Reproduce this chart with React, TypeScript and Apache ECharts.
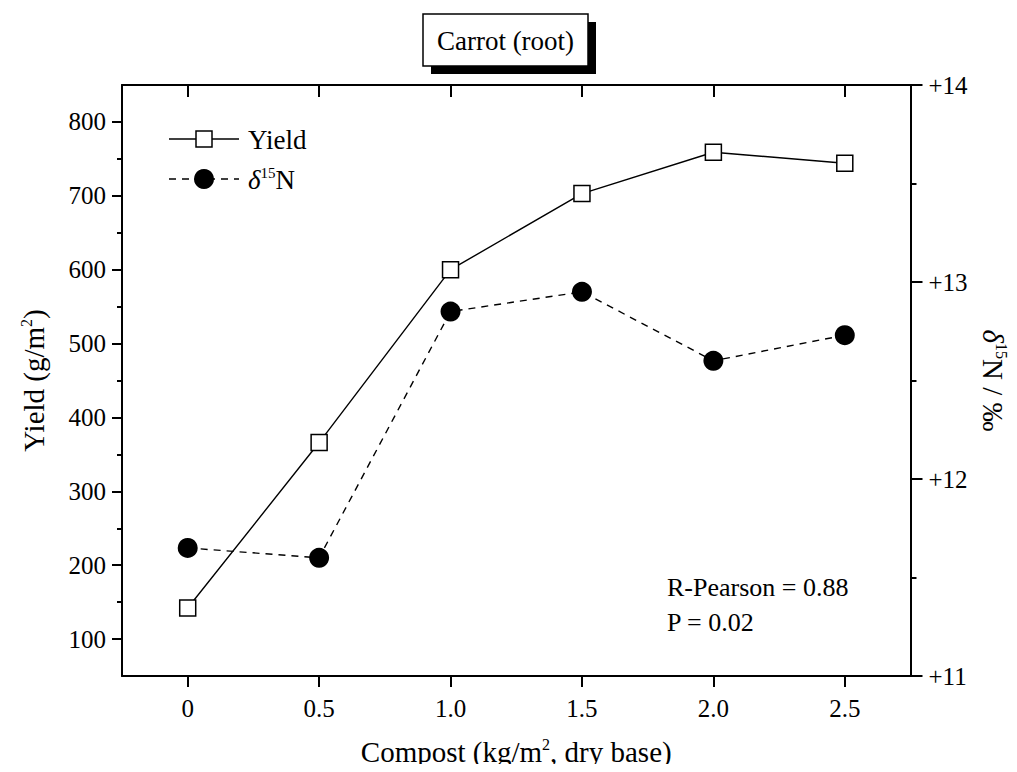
import React, { useEffect, useRef } from "react";
import * as echarts from "echarts";

const compost = [0, 0.5, 1.0, 1.5, 2.0, 2.5];
const yieldValues = [142, 366, 600, 703, 759, 744];
const deltaValues = [11.65, 11.6, 12.85, 12.95, 12.6, 12.73];
const xTicks = [0, 0.5, 1.0, 1.5, 2.0, 2.5];
const yieldTicks = [100, 200, 300, 400, 500, 600, 700, 800];
const yieldMinorTicks = [150, 250, 350, 450, 550, 650, 750];
const deltaTickLabels = ["+11", "+12", "+13", "+14"];

const FONT = "Liberation Serif";

export default function App() {
  const ref = useRef<HTMLDivElement>(null);
  useEffect(() => {
    if (!ref.current) return;
    const chart = echarts.init(ref.current, null, { renderer: "svg" });
    const axisLine = { show: true, onZero: false, lineStyle: { color: "#000", width: 2 } };
    const tickStyle = { color: "#000", width: 2 };
    const option: any = {
      animation: false,
      backgroundColor: "#fff",
      textStyle: { fontFamily: FONT },
      grid: { left: 122, right: 101, top: 85, bottom: 96, containLabel: false },
      xAxis: [
        {
          type: "value",
          position: "bottom",
          min: -0.25,
          max: 2.75,
          axisLine,
          axisTick: { show: true, customValues: xTicks, length: 11, lineStyle: tickStyle },
          axisLabel: {
            show: true,
            customValues: xTicks,
            formatter: (v: number) => (v === 0 ? "0" : v.toFixed(1)),
            fontSize: 25,
            color: "#000",
            fontFamily: FONT,
            margin: 20,
          },
          splitLine: { show: false },
          name: "{n|Compost (kg/m}{s|2}{n|, dry base)}",
          nameLocation: "middle",
          nameGap: 60,
          nameTextStyle: {
            fontFamily: FONT,
            rich: {
              n: { fontSize: 29, fontFamily: FONT, color: "#000", lineHeight: 32 },
              s: { fontSize: 16, fontFamily: FONT, color: "#000", verticalAlign: "top", lineHeight: 32 },
            },
          },
        },
        {
          type: "value",
          position: "top",
          min: -0.25,
          max: 2.75,
          axisLine,
          axisTick: { show: true, inside: true, customValues: xTicks, length: 12, lineStyle: tickStyle },
          axisLabel: { show: false },
          splitLine: { show: false },
        },
      ],
      yAxis: [
        {
          type: "value",
          position: "left",
          min: 50,
          max: 850,
          axisLine,
          axisTick: { show: true, customValues: yieldTicks, length: 10, lineStyle: tickStyle },
          axisLabel: {
            show: true,
            customValues: yieldTicks,
            fontSize: 25,
            color: "#000",
            fontFamily: FONT,
            margin: 16,
          },
          splitLine: { show: false },
          name: "{n|Yield (g/m}{s|2}{n|)}",
          nameLocation: "middle",
          nameRotate: 90,
          nameGap: 72,
          nameTextStyle: {
            fontFamily: FONT,
            rich: {
              n: { fontSize: 29, fontFamily: FONT, color: "#000", lineHeight: 32 },
              s: { fontSize: 16, fontFamily: FONT, color: "#000", verticalAlign: "top", lineHeight: 32 },
            },
          },
        },
        {
          type: "value",
          position: "right",
          min: 11,
          max: 14,
          interval: 1,
          axisLine,
          axisTick: { show: true, length: 12, lineStyle: tickStyle },
          minorTick: { show: true, splitNumber: 2, length: 6, lineStyle: tickStyle },
          axisLabel: {
            show: true,
            formatter: (v: number) => deltaTickLabels[Math.round(v - 11)] ?? "",
            fontSize: 25,
            color: "#000",
            fontFamily: FONT,
            margin: 18,
          },
          splitLine: { show: false },
          minorSplitLine: { show: false },
          name: "{d|δ}{s|15}{n|N / ‰}",
          nameLocation: "middle",
          nameRotate: -90,
          nameGap: 62,
          nameTextStyle: {
            fontFamily: FONT,
            rich: {
              d: { fontSize: 29, fontFamily: FONT, fontStyle: "italic", color: "#000", lineHeight: 32 },
              n: { fontSize: 29, fontFamily: FONT, color: "#000", lineHeight: 32 },
              s: { fontSize: 16, fontFamily: FONT, color: "#000", verticalAlign: "top", lineHeight: 32 },
            },
          },
        },
        {
          type: "value",
          position: "left",
          min: 50,
          max: 850,
          axisLine: { show: false, onZero: false },
          axisTick: { show: true, customValues: yieldMinorTicks, length: 5, lineStyle: tickStyle },
          axisLabel: { show: false },
          splitLine: { show: false },
        },
      ],
      series: [
        {
          type: "line",
          name: "Yield",
          xAxisIndex: 0,
          yAxisIndex: 0,
          data: compost.map((x, i) => [x, yieldValues[i]]),
          symbol: "rect",
          symbolSize: 16,
          lineStyle: { color: "#000", width: 1.4, type: "solid" },
          itemStyle: { color: "#fff", borderColor: "#000", borderWidth: 1.5 },
          z: 3,
        },
        {
          type: "line",
          name: "δ15N",
          xAxisIndex: 0,
          yAxisIndex: 1,
          data: compost.map((x, i) => [x, deltaValues[i]]),
          symbol: "circle",
          symbolSize: 20,
          lineStyle: { color: "#000", width: 1.4, type: [7, 6] },
          itemStyle: { color: "#000", borderColor: "#000", borderWidth: 0 },
          z: 2,
        },
      ],
      graphic: [
        { type: "rect", shape: { x: 431, y: 22, width: 165, height: 52 }, style: { fill: "#000" }, z: 10 },
        {
          type: "rect",
          shape: { x: 423, y: 14, width: 165, height: 52 },
          style: { fill: "#fff", stroke: "#000", lineWidth: 1.5 },
          z: 11,
        },
        {
          type: "text",
          x: 505.5,
          y: 41,
          style: {
            text: "Carrot (root)",
            fontSize: 27,
            fontFamily: FONT,
            fill: "#000",
            align: "center",
            verticalAlign: "middle",
          },
          z: 12,
        },
        { type: "line", shape: { x1: 169, y1: 139, x2: 239, y2: 139 }, style: { stroke: "#000", lineWidth: 1.4 }, z: 10 },
        {
          type: "rect",
          shape: { x: 196, y: 131, width: 16, height: 16 },
          style: { fill: "#fff", stroke: "#000", lineWidth: 1.5 },
          z: 11,
        },
        {
          type: "text",
          x: 248,
          y: 140,
          style: { text: "Yield", fontSize: 27, fontFamily: FONT, fill: "#000", verticalAlign: "middle" },
          z: 11,
        },
        {
          type: "line",
          shape: { x1: 169, y1: 179, x2: 239, y2: 179 },
          style: { stroke: "#000", lineWidth: 1.4, lineDash: [7, 6] },
          z: 10,
        },
        { type: "circle", shape: { cx: 204, cy: 179, r: 10 }, style: { fill: "#000" }, z: 11 },
        {
          type: "text",
          x: 248,
          y: 180,
          style: {
            text: "{d|δ}{s|15}{n|N}",
            fontFamily: FONT,
            verticalAlign: "middle",
            rich: {
              d: { fontSize: 27, fontFamily: FONT, fontStyle: "italic", fill: "#000", lineHeight: 30 },
              n: { fontSize: 27, fontFamily: FONT, fill: "#000", lineHeight: 30 },
              s: { fontSize: 15, fontFamily: FONT, fill: "#000", verticalAlign: "top", lineHeight: 30 },
            },
          },
          z: 11,
        },
        {
          type: "text",
          x: 667,
          y: 587,
          style: { text: "R-Pearson = 0.88", fontSize: 26, fontFamily: FONT, fill: "#000", verticalAlign: "middle" },
          z: 11,
        },
        {
          type: "text",
          x: 667,
          y: 622,
          style: { text: "P = 0.02", fontSize: 26, fontFamily: FONT, fill: "#000", verticalAlign: "middle" },
          z: 11,
        },
      ],
    };
    chart.setOption(option);
    return () => chart.dispose();
  }, []);
  return <div ref={ref} style={{ width: 1017, height: 772, margin: -8 }} />;
}
